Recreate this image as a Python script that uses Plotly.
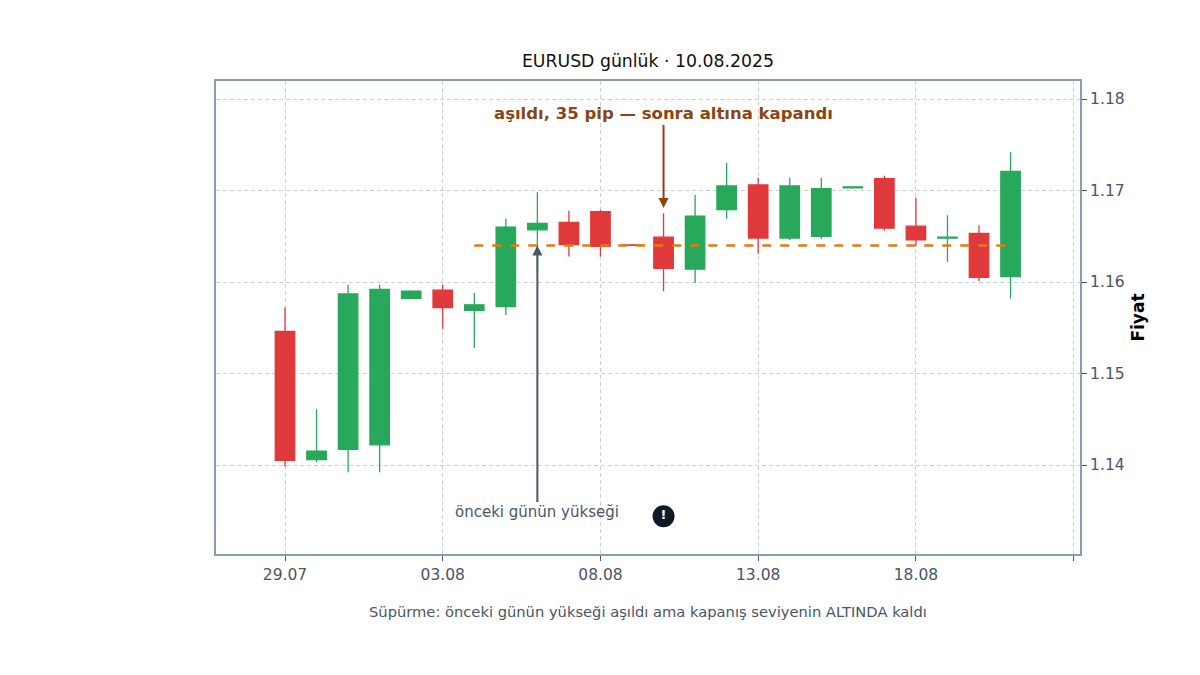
import plotly.graph_objects as go

# --- daily candles ---
dates = ["2025-07-29", "2025-07-30", "2025-07-31", "2025-08-01", "2025-08-02", "2025-08-03",
         "2025-08-04", "2025-08-05", "2025-08-06", "2025-08-07", "2025-08-08", "2025-08-09",
         "2025-08-10", "2025-08-11", "2025-08-12", "2025-08-13", "2025-08-14", "2025-08-15",
         "2025-08-16", "2025-08-17", "2025-08-18", "2025-08-19", "2025-08-20", "2025-08-21"]
opens = [1.1546, 1.1406, 1.1417, 1.1422, 1.1582, 1.1591, 1.1569, 1.1573, 1.1657, 1.1665, 1.1677, 1.16405,
         1.1649, 1.1614, 1.1679, 1.1706, 1.1648, 1.1650, 1.1703, 1.1713, 1.1661, 1.1648, 1.1653, 1.1606]
highs = [1.1572, 1.1461, 1.1597, 1.1597, 1.1591, 1.1597, 1.1588, 1.1669, 1.1698, 1.1678, 1.1679, 1.16405,
         1.1675, 1.1695, 1.1730, 1.1714, 1.1714, 1.1714, 1.1704, 1.1716, 1.1692, 1.1673, 1.1662, 1.1742]
lows = [1.1398, 1.1403, 1.1392, 1.1392, 1.1581, 1.1549, 1.1528, 1.1564, 1.1613, 1.1628, 1.1628, 1.1640,
        1.1590, 1.1599, 1.1669, 1.1631, 1.1646, 1.1647, 1.1702, 1.1656, 1.1639, 1.1622, 1.1601, 1.1582]
closes = [1.1405, 1.1415, 1.1587, 1.1592, 1.1590, 1.1572, 1.1575, 1.1660, 1.1664, 1.1641, 1.1639, 1.1640,
          1.1615, 1.1672, 1.1705, 1.1648, 1.1705, 1.1702, 1.1704, 1.1659, 1.1646, 1.1649, 1.1605, 1.1721]

# previous-day high level and the sweep day
level = 1.1640
level_start, level_end = "2025-08-04", "2025-08-21"
level_ref_day = "2025-08-06"
sweep_day = "2025-08-10"
sweep_arrow_y = 1.1681
warn_y = 1.1344

tick_vals = ["2025-07-29", "2025-08-03", "2025-08-08", "2025-08-13", "2025-08-18", "2025-08-23"]
tick_text = ["29.07", "03.08", "08.08", "13.08", "18.08", ""]

GREEN = "#27a85a"
RED = "#e0393b"
SLATE = "#4a5568"
FONT = "DejaVu Sans, sans-serif"

fig = go.Figure()

fig.add_trace(go.Candlestick(
    x=dates, open=opens, high=highs, low=lows, close=closes,
    increasing=dict(line=dict(color=GREEN, width=1.3), fillcolor=GREEN),
    decreasing=dict(line=dict(color=RED, width=1.3), fillcolor=RED),
    showlegend=False, hoverinfo="skip",
))

# dashed level line
fig.add_trace(go.Scatter(
    x=[level_start, level_end], y=[level, level], mode="lines",
    line=dict(color="#e07b16", width=2.5, dash="dash"),
    showlegend=False, hoverinfo="skip",
))

# warning marker under the sweep candle
fig.add_trace(go.Scatter(
    x=[sweep_day], y=[warn_y], mode="markers+text",
    marker=dict(size=22, color="#111827"),
    text=["<b>!</b>"], textposition="middle center",
    textfont=dict(color="white", size=13, family=FONT),
    showlegend=False, hoverinfo="skip",
))

fig.add_annotation(
    x=level_ref_day, y=level, text="önceki günün yükseği",
    showarrow=True, ax=0, ay=267, arrowhead=2, arrowsize=1, arrowwidth=2,
    arrowcolor=SLATE, font=dict(size=15, color=SLATE, family=FONT),
)
fig.add_annotation(
    x=sweep_day, y=sweep_arrow_y, text="<b>aşıldı, 35 pip — sonra altına kapandı</b>",
    showarrow=True, ax=0, ay=-94, arrowhead=2, arrowsize=1, arrowwidth=2,
    arrowcolor="#8b4513", font=dict(size=16.5, color="#8b4513", family=FONT),
)
fig.add_annotation(
    xref="paper", yref="paper", x=0.5, y=-0.121, yanchor="middle",
    text="Süpürme: önceki günün yükseği aşıldı ama kapanış seviyenin ALTINDA kaldı",
    showarrow=False, font=dict(size=14.7, color=SLATE, family=FONT),
)

fig.update_layout(
    width=1200, height=675,
    margin=dict(l=208, r=128, t=73, b=129),
    plot_bgcolor="white", paper_bgcolor="white",
    font=dict(family=FONT, color=SLATE),
    boxgap=0.12,
    title=dict(text="EURUSD günlük · 10.08.2025", x=0.5333, xanchor="center", y=0.9215, yanchor="middle",
               font=dict(size=17.3, color="#111111")),
    xaxis=dict(
        type="date", range=["2025-07-26 19:30", "2025-08-23 04:50"],
        rangeslider=dict(visible=False),
        tickvals=tick_vals, ticktext=tick_text,
        tickfont=dict(size=15.5, color=SLATE),
        showgrid=True, gridcolor="#d0d0d0", griddash="4px,3px", gridwidth=1,
        showline=True, linecolor="#8d9bb0", linewidth=2, mirror=True,
        ticks="outside", ticklen=5, tickcolor=SLATE, zeroline=False,
    ),
    yaxis=dict(
        side="right", range=[1.130273, 1.181967],
        tickvals=[1.14, 1.15, 1.16, 1.17, 1.18], tickformat=".2f",
        tickfont=dict(size=15.5, color=SLATE),
        title=dict(text="<b>Fiyat</b>", font=dict(size=17, color="black"), standoff=8),
        showgrid=True, gridcolor="#d0d0d0", griddash="4px,3px", gridwidth=1,
        showline=True, linecolor="#8d9bb0", linewidth=2, mirror=True,
        ticks="outside", ticklen=5, tickcolor=SLATE, zeroline=False,
    ),
)

fig.write_html("out.html")
